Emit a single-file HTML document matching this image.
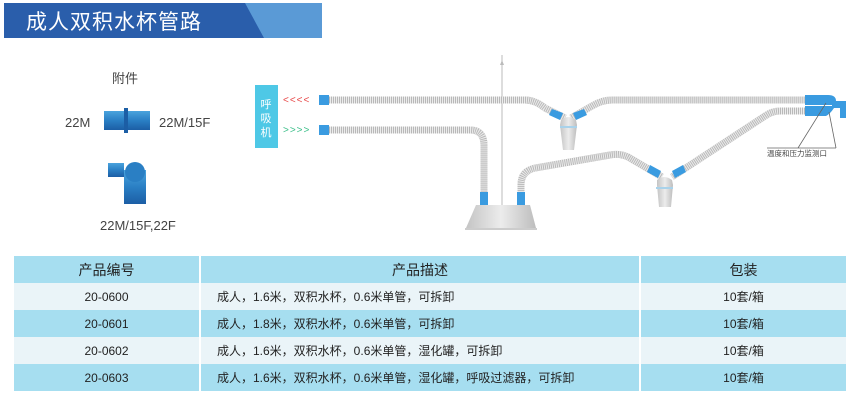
<!DOCTYPE html>
<html><head><meta charset="utf-8"><style>
body{margin:0;background:#fff;width:862px;height:401px;overflow:hidden;position:relative;font-family:"Liberation Sans","Noto Sans CJK SC",sans-serif}
.t{position:absolute;color:#444}
table{position:absolute;left:14px;top:256px;width:834px;border-collapse:collapse;font-size:12px;color:#222}
td{border-right:2px solid #fff;text-align:center;padding:0}
tr.h td{background:#a6def0;height:27px;font-size:14px}
tr.a td{background:#eaf4f8;height:27px}
tr.b td{background:#a6def0;height:27px}
td.d{text-align:left;padding-left:16px}
</style></head><body>
<svg width="862" height="401" style="position:absolute;left:0;top:0">
<defs><linearGradient id="bg" x1="0" y1="0" x2="0" y2="1"><stop offset="0" stop-color="#4aa3dd"/><stop offset=".5" stop-color="#2a7fc4"/><stop offset="1" stop-color="#1c5ea5"/></linearGradient>
<linearGradient id="bs" x1="0" y1="0" x2="1" y2="0"><stop offset="0" stop-color="#c4c4c4"/><stop offset=".5" stop-color="#ececec"/><stop offset="1" stop-color="#bdbdbd"/></linearGradient></defs>
<rect x="4" y="3" width="318" height="35" fill="#2a5eab"/>
<polygon points="245,3 322,3 322,38 264,38" fill="#5a9ad6"/>
<text x="26" y="29" font-size="21" fill="#fff" font-family="Liberation Sans,Noto Sans CJK SC,sans-serif" letter-spacing="1">成人双积水杯管路</text>
<rect x="104" y="111" width="46" height="19" fill="url(#bg)"/><rect x="124" y="108" width="4" height="25" fill="#1c5ea5"/>
<rect x="108" y="163" width="16" height="14" fill="url(#bg)"/><rect x="124" y="170" width="22" height="34" fill="url(#bg)"/><circle cx="135" cy="172" r="10" fill="#2a7fc4"/>
<rect x="255" y="85" width="23" height="63" fill="#4ec8e6"/>
<text x="266" y="108" font-size="11" fill="#fff" text-anchor="middle">呼</text>
<text x="266" y="122" font-size="11" fill="#fff" text-anchor="middle">吸</text>
<text x="266" y="136" font-size="11" fill="#fff" text-anchor="middle">机</text>
<text x="283" y="103" font-size="10" fill="#e84a4a" letter-spacing="1">&lt;&lt;&lt;&lt;</text>
<text x="283" y="133" font-size="10" fill="#3cbf8a" letter-spacing="1">&gt;&gt;&gt;&gt;</text>
<line x1="502" y1="55" x2="502" y2="210" stroke="#bbb" stroke-width="1"/>
<path d="M500 65 l2 -5 l2 5 z" fill="#bbb"/>
<g fill="none" stroke-width="7">
<path id="p1" d="M322 100 H525 Q535 100 545 108 L565 118 M571 118 L592 106 Q602 100 612 100 H808"/>
<path id="p2" d="M322 130 H470 Q484 130 484 145 V205"/>
<path id="p3" d="M808 111 H780 Q772 111 765 116 L672 177 M662 177 L628 157 Q620 153 610 155 L535 168 Q521 171 521 185 V205"/>
</g>
<use href="#p1" stroke="#b8b8b8" stroke-width="7" fill="none"/><use href="#p1" stroke="#ececec" stroke-width="7" fill="none" stroke-dasharray="1 1"/>
<use href="#p2" stroke="#b8b8b8" stroke-width="7" fill="none"/><use href="#p2" stroke="#ececec" stroke-width="7" fill="none" stroke-dasharray="1 1"/>
<use href="#p3" stroke="#b8b8b8" stroke-width="7" fill="none"/><use href="#p3" stroke="#ececec" stroke-width="7" fill="none" stroke-dasharray="1 1"/>
<g fill="#3a9be0">
<rect x="319" y="95" width="10" height="10"/><rect x="319" y="125" width="10" height="10"/>
<rect x="480" y="192" width="8" height="14"/><rect x="517" y="192" width="8" height="14"/>
<path d="M805 95 H828 Q836 95 836 101 H846 V118 H840 V108 H834 Q830 114 826 116 H805 Z"/>
<path d="M552 109 L563 113 L560 120 L549 115Z"/><path d="M584 109 L573 113 L576 120 L587 115Z"/>
<path d="M650 165 L661 171 L658 178 L647 172Z"/><path d="M683 165 L672 171 L675 178 L686 172Z"/>
</g>
<line x1="805" y1="105.5" x2="832" y2="105.5" stroke="#fff" stroke-width="1"/>
<path d="M561 120 Q568 114 576 120 L577 125 L574 150 H563 L560 125Z" fill="url(#bs)"/>
<rect x="560" y="126" width="17" height="2" fill="#a9d2ea"/>
<path d="M657 180 Q664 174 672 180 L673 185 L671 207 H659 L657 185Z" fill="url(#bs)"/>
<rect x="656" y="187" width="17" height="2" fill="#a9d2ea"/>
<path d="M476 205 H530 L536 228 H466Z" fill="url(#bs)"/>
<line x1="465" y1="229" x2="537" y2="229" stroke="#999" stroke-width="1"/>
<path d="M826 103 L798 148 M829 112 L836 148 M767 148 H836" stroke="#666" stroke-width="0.8" fill="none"/>
<text x="767" y="156" font-size="7.5" fill="#444">温度和压力监测口</text>
</svg>
<div class="t" style="left:112px;top:68px;font-size:13px">附件</div>
<div class="t" style="left:65px;top:115px;font-size:13px">22M</div>
<div class="t" style="left:159px;top:115px;font-size:13px">22M/15F</div>
<div class="t" style="left:100px;top:218px;font-size:13px">22M/15F,22F</div>
<table>
<tr class="h"><td style="width:185px">产品编号</td><td style="width:438px">产品描述</td><td>包装</td></tr>
<tr class="a"><td>20-0600</td><td class="d">成人，1.6米，双积水杯，0.6米单管，可拆卸</td><td>10套/箱</td></tr>
<tr class="b"><td>20-0601</td><td class="d">成人，1.8米，双积水杯，0.6米单管，可拆卸</td><td>10套/箱</td></tr>
<tr class="a"><td>20-0602</td><td class="d">成人，1.6米，双积水杯，0.6米单管，湿化罐，可拆卸</td><td>10套/箱</td></tr>
<tr class="b"><td>20-0603</td><td class="d">成人，1.6米，双积水杯，0.6米单管，湿化罐，呼吸过滤器，可拆卸</td><td>10套/箱</td></tr>
</table>
</body></html>
